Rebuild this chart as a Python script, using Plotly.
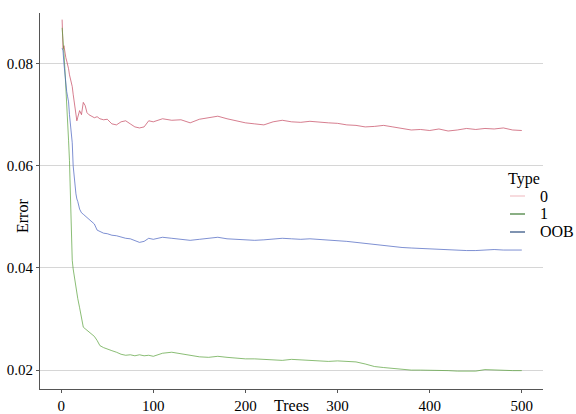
import plotly.graph_objects as go

trees = [1, 2, 3, 4, 5, 6, 7, 8, 9, 10, 11, 12, 13, 14, 15, 16, 17, 18,
         20, 22, 24, 26, 28, 30, 33, 36, 39, 42, 46, 50,
         55, 60, 65, 70, 75, 80, 85, 90, 95, 100,
         110, 120, 130, 140, 150, 160, 170, 180, 190, 200,
         210, 220, 230, 240, 250, 260, 270, 280, 290, 300,
         310, 320, 330, 340, 350, 360, 370, 380, 390, 400,
         410, 420, 430, 440, 450, 460, 470, 480, 490, 500]

err_0 = [0.0886, 0.0829, 0.0835, 0.0820, 0.0812, 0.0805, 0.0798, 0.0790, 0.0778, 0.0770,
         0.0765, 0.0755, 0.0740, 0.0728, 0.0715, 0.0700, 0.0688, 0.0695,
         0.0708, 0.0700, 0.0724, 0.0718, 0.0704, 0.0700, 0.0697, 0.0694, 0.0696, 0.0692, 0.0690, 0.0691,
         0.0682, 0.0680, 0.0686, 0.0688, 0.0682, 0.0676, 0.0674, 0.0676, 0.0688, 0.0686,
         0.0692, 0.0689, 0.0690, 0.0684, 0.0691, 0.0694, 0.0697, 0.0692, 0.0688, 0.0684,
         0.0682, 0.0680, 0.0686, 0.0689, 0.0686, 0.0685, 0.0687, 0.0685, 0.0684, 0.0683,
         0.0680, 0.0679, 0.0676, 0.0677, 0.0679, 0.0676, 0.0673, 0.0670, 0.0671, 0.0669,
         0.0672, 0.0668, 0.0670, 0.0673, 0.0671, 0.0673, 0.0672, 0.0674, 0.0670, 0.0669]

err_1 = [0.0870, 0.0850, 0.0820, 0.0790, 0.0760, 0.0725, 0.0690, 0.0650, 0.0610, 0.0540,
         0.0450, 0.0415, 0.0398, 0.0385, 0.0372, 0.0360, 0.0350, 0.0340,
         0.0322, 0.0300, 0.0284, 0.0281, 0.0278, 0.0276, 0.0272, 0.0266, 0.0258, 0.0248, 0.0244, 0.0242,
         0.0238, 0.0235, 0.0231, 0.0229, 0.0230, 0.0228, 0.0230, 0.0228, 0.0229, 0.0227,
         0.0233, 0.0235, 0.0232, 0.0229, 0.0226, 0.0225, 0.0227, 0.0225, 0.0223, 0.0222,
         0.0222, 0.0221, 0.0220, 0.0219, 0.0221, 0.0220, 0.0219, 0.0218, 0.0217, 0.0218,
         0.0217, 0.0216, 0.0212, 0.0207, 0.0205, 0.0203, 0.0201, 0.0200, 0.0200, 0.0200,
         0.0199, 0.0199, 0.0198, 0.0198, 0.0198, 0.0201, 0.0200, 0.0199, 0.0199, 0.0199]

err_oob = [0.0830, 0.0825, 0.0800, 0.0775, 0.0760, 0.0745, 0.0735, 0.0725, 0.0700, 0.0680,
           0.0660, 0.0645, 0.0600, 0.0580, 0.0555, 0.0545, 0.0535, 0.0530,
           0.0515, 0.0508, 0.0505, 0.0502, 0.0499, 0.0495, 0.0490, 0.0486, 0.0474, 0.0472, 0.0468, 0.0467,
           0.0464, 0.0463, 0.0460, 0.0458, 0.0457, 0.0453, 0.0450, 0.0452, 0.0458, 0.0456,
           0.0460, 0.0458, 0.0456, 0.0454, 0.0456, 0.0458, 0.0460, 0.0457, 0.0456, 0.0455,
           0.0454, 0.0455, 0.0457, 0.0458, 0.0457, 0.0456, 0.0457, 0.0456, 0.0455, 0.0454,
           0.0452, 0.0450, 0.0448, 0.0446, 0.0443, 0.0442, 0.0440, 0.0439, 0.0438, 0.0437,
           0.0437, 0.0436, 0.0435, 0.0434, 0.0434, 0.0435, 0.0436, 0.0435, 0.0435, 0.0435]

series_names = ["0", "1", "OOB"]
line_colors = ["#c4465e", "#58a03a", "#4660bf"]
legend_colors = ["#f2c4c8", "#3d7a32", "#2b4c7e"]
x_ticks = [0, 100, 200, 300, 400, 500]
x_tick_text = ["0", "100", "200", "300", "400", "500"]
y_ticks = [0.02, 0.04, 0.06, 0.08]
y_tick_text = ["0.02", "0.04", "0.06", "0.08"]

FONT = "Liberation Serif"

fig = go.Figure()
for name, vals, lc in zip(series_names, [err_0, err_1, err_oob], line_colors):
    fig.add_trace(go.Scatter(x=trees, y=vals, mode="lines", name=name,
                             line=dict(color=lc, width=0.7), showlegend=False))

px_l, px_r, px_t, px_b = 40, 543, 13, 389
def xp(px):
    return (px - px_l) / (px_r - px_l)
def yp(py):
    return (px_b - py) / (px_b - px_t)

annotations = [
    dict(text="Trees", x=0.5, y=yp(405), xref="paper", yref="paper",
         xanchor="center", yanchor="middle", showarrow=False,
         font=dict(family=FONT, size=16, color="#000")),
    dict(text="Error", x=xp(22), y=yp(216), xref="paper", yref="paper",
         xanchor="center", yanchor="middle", showarrow=False, textangle=-90,
         font=dict(family=FONT, size=16, color="#000")),
    dict(text="Type", x=xp(506), y=yp(179), xref="paper", yref="paper",
         xanchor="left", yanchor="middle", showarrow=False,
         font=dict(family=FONT, size=16, color="#000")),
]
shapes = []
key_y = [196, 214, 232]
for name, gc, ky in zip(series_names, legend_colors, key_y):
    shapes.append(dict(type="line", xref="paper", yref="paper",
                       x0=xp(510), x1=xp(525), y0=yp(ky), y1=yp(ky),
                       line=dict(color=gc, width=1.2)))
    annotations.append(dict(text=name, x=xp(538), y=yp(ky), xref="paper", yref="paper",
                            xanchor="left", yanchor="middle", showarrow=False,
                            font=dict(family=FONT, size=16, color="#000")))

fig.update_layout(
    template="none",
    width=576, height=414,
    margin=dict(l=px_l, r=576 - px_r, t=px_t, b=414 - px_b, autoexpand=False),
    paper_bgcolor="white", plot_bgcolor="white",
    font=dict(family=FONT, size=14, color="#000"),
    showlegend=False,
    xaxis=dict(range=[-23, 523], tickmode="array", tickvals=x_ticks, ticktext=x_tick_text,
               showgrid=False, zeroline=False,
               showline=True, linecolor="#555", linewidth=1, automargin=False,
               ticks="outside", ticklen=3, tickcolor="#555",
               tickfont=dict(family="Times New Roman", size=15, color="#000")),
    yaxis=dict(range=[0.0163, 0.0899], tickmode="array", tickvals=y_ticks, ticktext=y_tick_text,
               showgrid=True, gridcolor="#d6d6d6", gridwidth=1, zeroline=False,
               showline=True, linecolor="#555", linewidth=1, automargin=False,
               ticks="outside", ticklen=3, tickcolor="#555",
               tickfont=dict(family="Times New Roman", size=15, color="#000")),
    annotations=annotations,
    shapes=shapes,
)

fig.write_html("out.html", config={"displayModeBar": False},
               post_script="document.body.style.margin='0px';")
